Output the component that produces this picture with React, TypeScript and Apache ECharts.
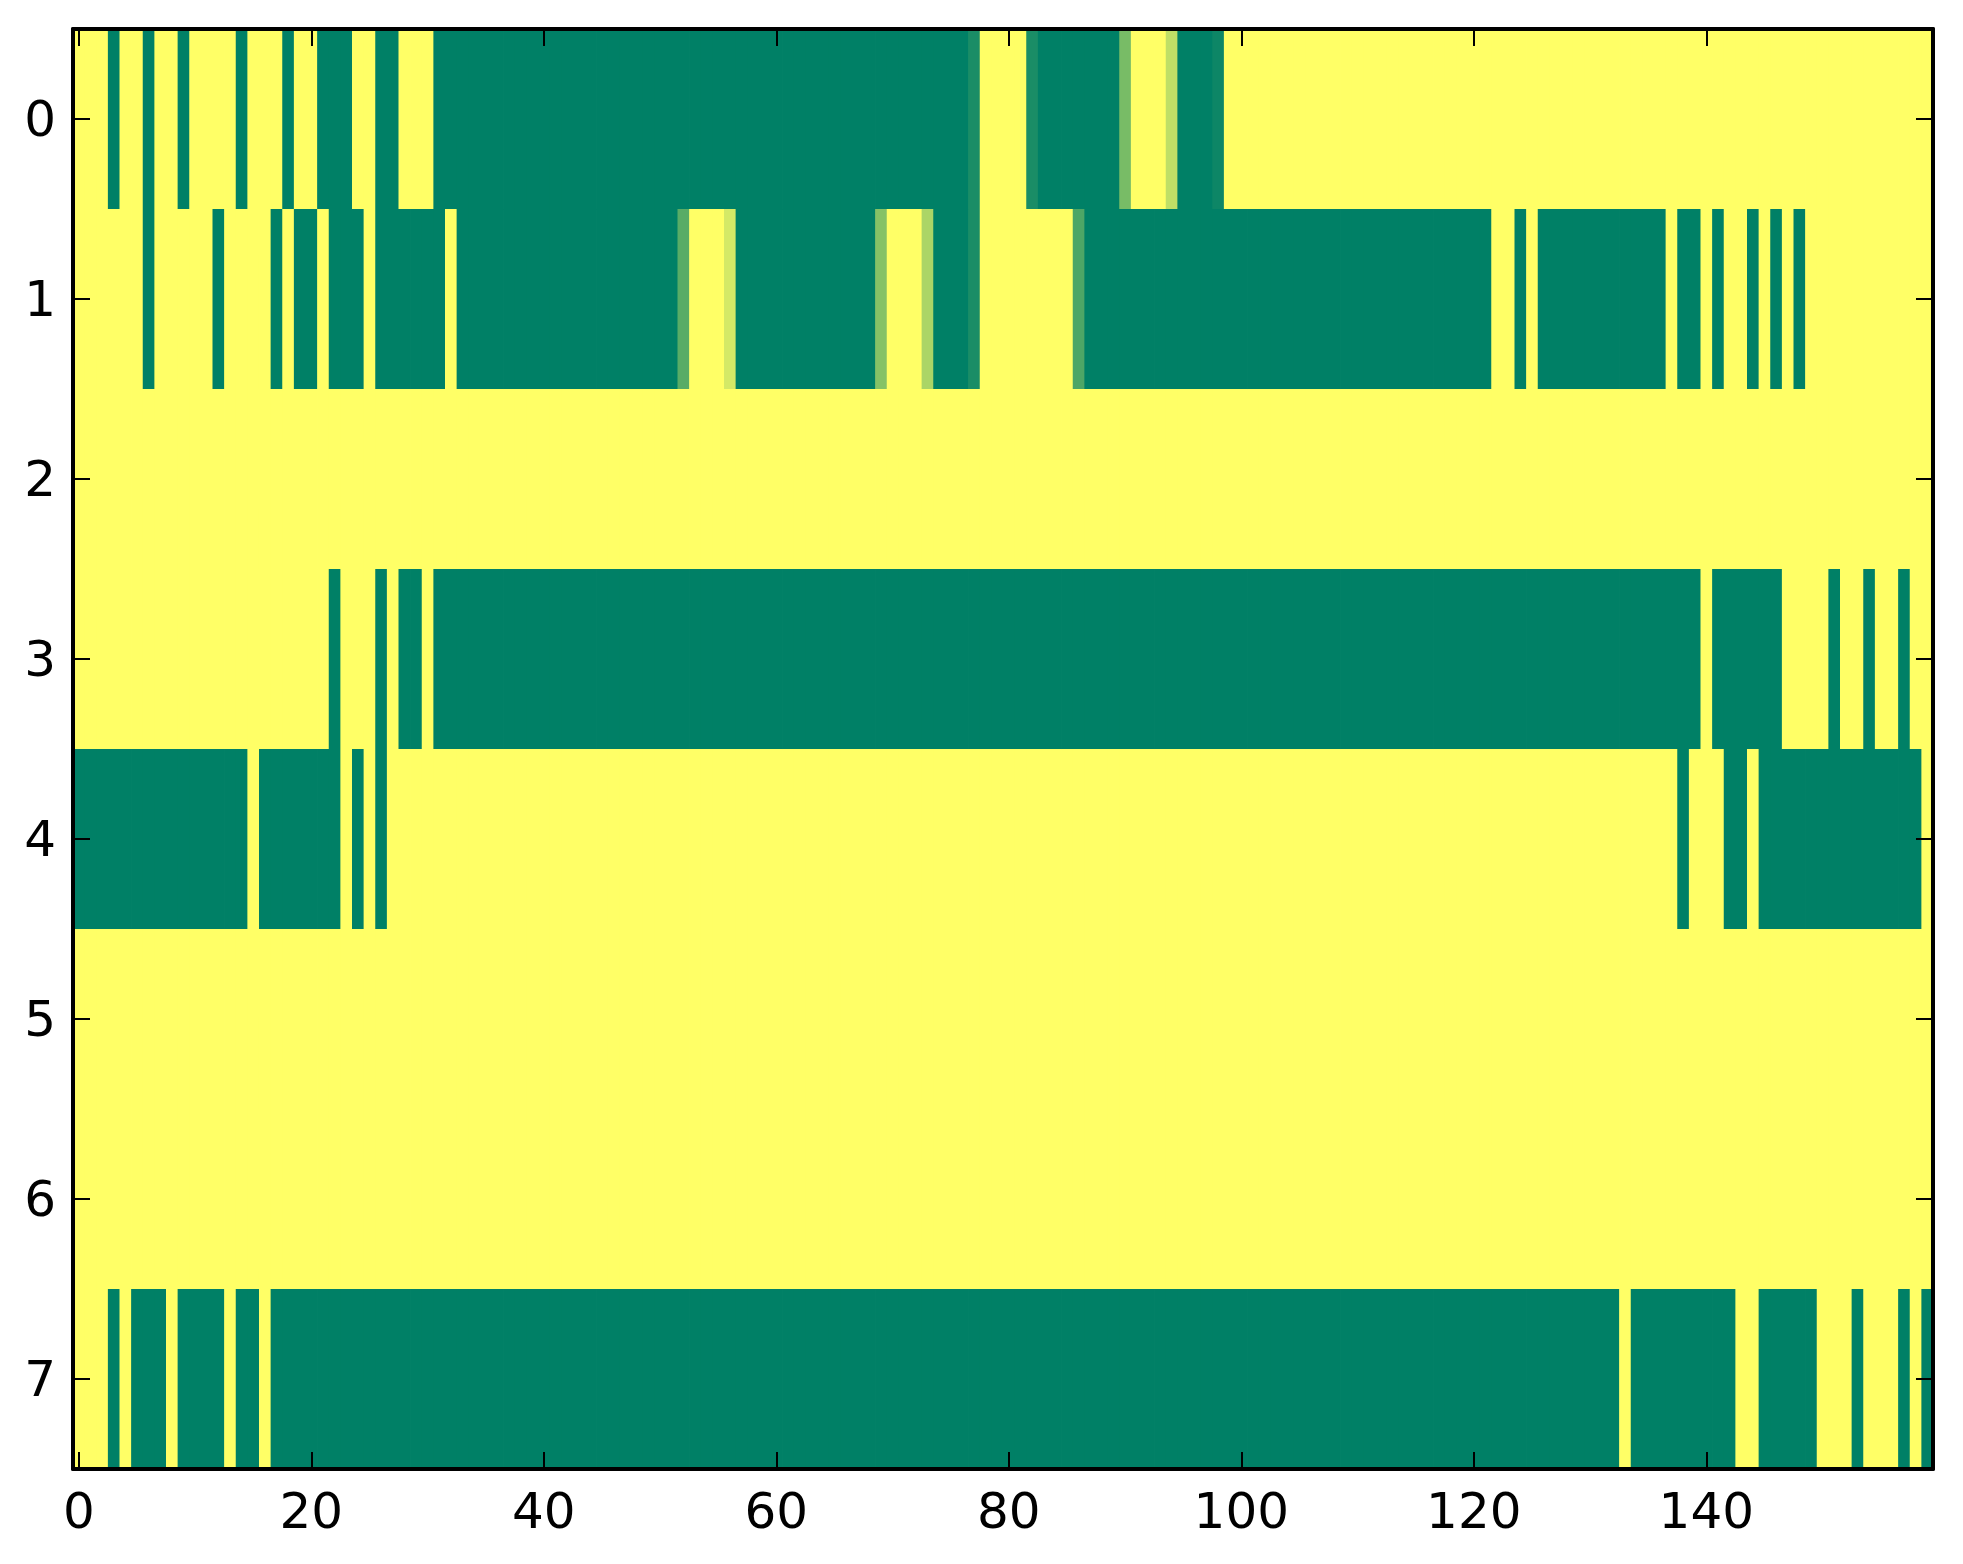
import * as echarts from 'echarts';
import { useEffect, useRef } from 'react';

// each row of the image as runs of [value, number of columns]
const row0: [number, number][] = [
  [1, 3], [0, 1], [1, 2], [0, 1], [1, 2], [0, 1], [1, 4], [0, 1], [1, 3], [0, 1],
  [1, 2], [0, 3], [1, 2], [0, 2], [1, 3], [0, 46], [0.1, 1], [1, 4], [0.1, 1], [0, 7],
  [0.47, 1], [1, 3], [0.75, 1], [0, 3], [0.05, 1], [1, 61],
];
const row1: [number, number][] = [
  [1, 6], [0, 1], [1, 5], [0, 1], [1, 4], [0, 1], [1, 1], [0, 2], [1, 1], [0, 3],
  [1, 1], [0, 6], [1, 1], [0, 19], [0.35, 1], [1, 3], [0.83, 1], [0, 12], [0.52, 1], [1, 3],
  [0.67, 1], [0, 3], [0.1, 1], [1, 8], [0.3, 1], [0, 35], [1, 2], [0, 1], [1, 1], [0, 11],
  [1, 1], [0, 2], [1, 1], [0, 1], [1, 2], [0, 1], [1, 1], [0, 1], [1, 1], [0, 1], [1, 11],
];
const row2: [number, number][] = [[1, 160]];
const row3: [number, number][] = [
  [1, 22], [0, 1], [1, 3], [0, 1], [1, 1], [0, 2], [1, 1], [0, 109], [1, 1], [0, 6],
  [1, 4], [0, 1], [1, 2], [0, 1], [1, 2], [0, 1], [1, 2],
];
const row4: [number, number][] = [
  [0, 15], [1, 1], [0, 7], [1, 1], [0, 1], [1, 1], [0, 1], [1, 111], [0, 1], [1, 3],
  [0, 2], [1, 1], [0, 14], [1, 1],
];
const row5: [number, number][] = [[1, 160]];
const row6: [number, number][] = [[1, 160]];
const row7: [number, number][] = [
  [1, 3], [0, 1], [1, 1], [0, 3], [1, 1], [0, 4], [1, 1], [0, 2], [1, 1], [0, 116],
  [1, 1], [0, 9], [1, 2], [0, 5], [1, 3], [0, 1], [1, 3], [0, 1], [1, 1], [0, 1],
];
const rows = [row0, row1, row2, row3, row4, row5, row6, row7];

const columnCount = 160;
const xTickValues = [0, 20, 40, 60, 80, 100, 120, 140];
const yLabels = ['0', '1', '2', '3', '4', '5', '6', '7'];
const xCategories = Array.from({ length: columnCount }, (_, i) => String(i));

const App: React.FC = () => {
  const chartRef = useRef<HTMLDivElement>(null);

  useEffect(() => {
    if (!chartRef.current) return;
    const mychart = echarts.init(chartRef.current, null, { renderer: 'svg' });

    // expand the runs into [col, row, value] cells
    const cells: number[][] = [];
    rows.forEach((runs, r) => {
      let col = 0;
      runs.forEach(([v, n]) => {
        for (let i = 0; i < n; i++) {
          cells.push([col, r, v]);
          col++;
        }
      });
    });

    const font = { color: '#000', fontSize: 50, fontFamily: 'DejaVu Sans' };
    const tickX = (idx: number) => xTickValues.includes(idx);
    const line = { show: true, onZero: false, lineStyle: { color: '#000', width: 4 } };
    const tick = { show: true, inside: true, length: 17, alignWithLabel: true, lineStyle: { color: '#000', width: 2 } };

    mychart.setOption({
      animation: false,
      grid: { left: 65, top: 21, width: 1860, height: 1440, containLabel: false },
      xAxis: [
        {
          type: 'category', data: xCategories, position: 'bottom', z: 10,
          axisLine: line,
          axisTick: { ...tick, interval: tickX },
          axisLabel: { ...font, margin: 17, interval: tickX },
          splitLine: { show: false },
        },
        {
          type: 'category', data: xCategories, position: 'top', z: 10,
          axisLine: line,
          axisTick: { ...tick, interval: tickX },
          axisLabel: { show: false },
          splitLine: { show: false },
        },
      ],
      yAxis: [
        {
          type: 'category', data: yLabels, inverse: true, position: 'left', z: 10,
          axisLine: line,
          axisTick: { ...tick, interval: 0 },
          axisLabel: { ...font, margin: 17, interval: 0 },
          splitLine: { show: false },
        },
        {
          type: 'category', data: yLabels, inverse: true, position: 'right', z: 10,
          axisLine: line,
          axisTick: { ...tick, interval: 0 },
          axisLabel: { show: false },
          splitLine: { show: false },
        },
      ],
      visualMap: {
        show: false, min: 0, max: 1, dimension: 2, seriesIndex: 0,
        inRange: { color: ['#008066', '#ffff66'] },
      },
      series: [
        {
          type: 'custom',
          xAxisIndex: 0,
          yAxisIndex: 0,
          z: 1,
          renderItem: (_params: any, api: any) => {
            const c = api.coord([api.value(0), api.value(1)]);
            const s = api.size([1, 1]);
            return {
              type: 'rect',
              shape: { x: c[0] - s[0] / 2, y: c[1] - s[1] / 2, width: s[0] + 0.8, height: s[1] + 0.8 },
              style: { fill: api.visual('color') },
            };
          },
          encode: { x: 0, y: 1 },
          data: cells,
        },
      ],
    });

    return () => {
      if (!mychart.isDisposed()) mychart.dispose();
    };
  }, []);

  return <div ref={chartRef} style={{ width: '1947px', height: '1548px' }}></div>;
};

export default App;
